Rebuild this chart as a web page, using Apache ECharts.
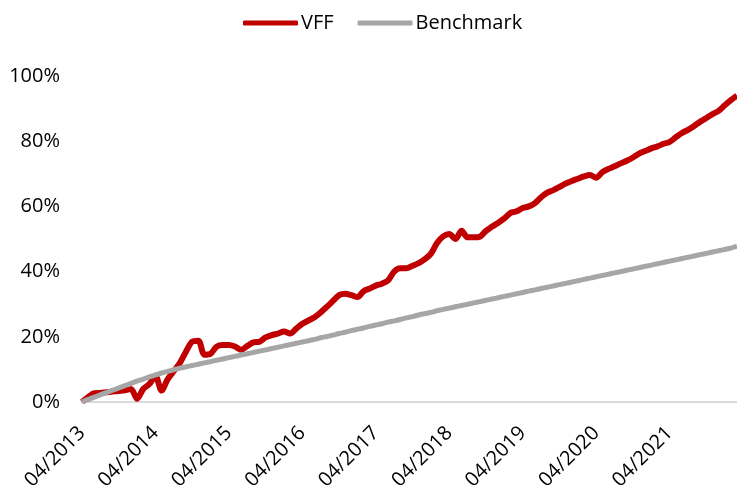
<!DOCTYPE html>
<html>
<head>
<meta charset="utf-8">
<script src="https://cdn.jsdelivr.net/npm/echarts@6/dist/echarts.min.js"></script>
<style>
    html, body { margin: 0; padding: 0; background: #fff; }
    #chart { width: 737px; height: 493px; }
</style>
</head>
<body>
<div id="chart"></div>
<script>
    // month labels 04/2013 .. 03/2022
    var startYear = 2013, startMonth = 4, monthCount = 108;
    var months = [];
    for (var i = 0; i < monthCount; i++) {
        var m = (startMonth - 1 + i) % 12 + 1;
        var y = startYear + Math.floor((startMonth - 1 + i) / 12);
        months.push((m < 10 ? '0' + m : '' + m) + '/' + y);
    }

    // cumulative return, % (monthly)
    var vff = [
        0, 1.5, 2.7, 2.8, 3.0, 3.2, 3.4, 3.6, 4.0, 1.0, 4.0, 5.5,
        8.0, 3.5, 7.0, 9.5, 12.0, 15.5, 18.5, 18.8, 14.5, 14.8, 17.0, 17.5,
        17.5, 17.0, 16.0, 17.2, 18.3, 18.5, 19.8, 20.5, 21.0, 21.6, 21.0, 22.5,
        24.0, 25.0, 26.0, 27.5, 29.2, 31.0, 32.8, 33.2, 32.8, 32.2, 34.0, 34.8,
        35.7, 36.3, 37.3, 40.0, 41.0, 41.0, 41.8, 42.6, 43.8, 45.5, 48.8, 50.8,
        51.5, 50.0, 52.5, 50.5, 50.5, 50.7, 52.5, 53.8, 55.0, 56.3, 58.0, 58.5,
        59.5, 60.0, 61.0, 62.8, 64.2, 65.0, 66.0, 67.0, 67.8, 68.5, 69.2, 69.6,
        68.8, 70.5, 71.5, 72.3, 73.2, 74.0, 75.0, 76.2, 77.0, 77.8, 78.4, 79.2,
        79.8, 81.2, 82.5, 83.5, 84.7, 86.0, 87.1, 88.3, 89.3, 91.0, 92.6, 94.0
    ];
    var benchmark = [
        0, 0.8, 1.5, 2.2, 2.9, 3.6, 4.3, 5.0, 5.7, 6.4, 7.0, 7.7,
        8.3, 8.9, 9.4, 9.9, 10.4, 10.8, 11.2, 11.6, 12.0, 12.4, 12.8, 13.2,
        13.6, 14.0, 14.4, 14.8, 15.2, 15.6, 16.0, 16.4, 16.8, 17.2, 17.6, 18.0,
        18.4, 18.8, 19.2, 19.7, 20.1, 20.5, 21.0, 21.4, 21.9, 22.3, 22.7, 23.2,
        23.6, 24.0, 24.5, 24.9, 25.3, 25.8, 26.2, 26.7, 27.1, 27.5, 28.0, 28.4,
        28.8, 29.2, 29.6, 30.0, 30.4, 30.8, 31.2, 31.6, 32.0, 32.4, 32.8, 33.2,
        33.6, 34.0, 34.4, 34.8, 35.2, 35.6, 36.0, 36.4, 36.8, 37.2, 37.6, 38.0,
        38.4, 38.8, 39.2, 39.6, 40.0, 40.4, 40.8, 41.2, 41.6, 42.0, 42.4, 42.8,
        43.2, 43.6, 44.0, 44.4, 44.8, 45.2, 45.6, 46.0, 46.4, 46.8, 47.2, 47.8
    ];

    var chart = echarts.init(document.getElementById('chart'));
    chart.setOption({
        animation: false,
        textStyle: { fontFamily: 'Open Sans' },
        legend: {
            top: 8,
            left: 238,
            icon: 'roundRect',
            itemWidth: 55,
            itemHeight: 5,
            itemGap: 24,
            textStyle: { fontSize: 20, color: '#000', fontFamily: 'Open Sans', padding: [0, 0, 0, -2] },
            data: ['VFF', 'Benchmark']
        },
        grid: {
            left: 82,
            right: 0,
            top: 76,
            bottom: 91
        },
        xAxis: {
            type: 'category',
            boundaryGap: false,
            data: months,
            axisLine: { lineStyle: { color: '#d9d9d9', width: 2 } },
            axisTick: { show: false },
            axisLabel: {
                interval: 11,
                rotate: 45,
                margin: 28,
                fontSize: 20,
                color: '#000',
                fontFamily: 'Open Sans'
            },
            splitLine: { show: false }
        },
        yAxis: {
            type: 'value',
            min: 0,
            max: 100,
            interval: 20,
            axisLine: { show: false },
            axisTick: { show: false },
            splitLine: { show: false },
            axisLabel: {
                formatter: '{value}%',
                margin: 22,
                fontSize: 20,
                color: '#000',
                fontFamily: 'Open Sans'
            }
        },
        series: [
            {
                name: 'VFF',
                type: 'line',
                data: vff,
                symbol: 'none',
                smooth: 0.3,
                lineStyle: { color: '#c00000', width: 6 },
                itemStyle: { color: '#c00000' }
            },
            {
                name: 'Benchmark',
                type: 'line',
                data: benchmark,
                symbol: 'none',
                smooth: 0.3,
                lineStyle: { color: '#a6a6a6', width: 5 },
                itemStyle: { color: '#a6a6a6' }
            }
        ]
    });
</script>
</body>
</html>
